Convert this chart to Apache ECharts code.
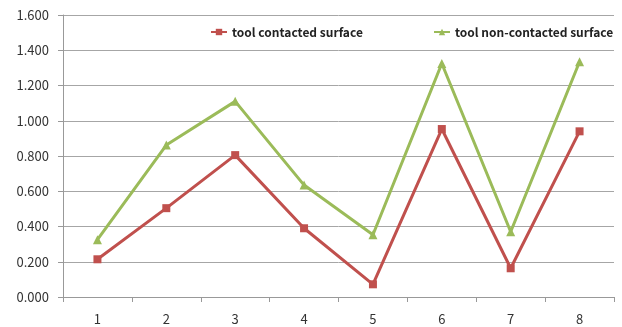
<!DOCTYPE html>
<html>
<head>
    <meta charset="utf-8">
    <script src="https://cdn.jsdelivr.net/npm/echarts@6/dist/echarts.min.js"></script>
    <style>
        html, body { margin: 0; padding: 0; background: #fff; }
    </style>
</head>
<body>
    <div id="main" style="width: 622px;height:327px;"></div>
    <script type="text/javascript">
        // data
        var categories = ['1', '2', '3', '4', '5', '6', '7', '8'];
        var contacted = [0.214, 0.504, 0.805, 0.390, 0.072, 0.953, 0.163, 0.940];
        var nonContacted = [0.325, 0.862, 1.110, 0.635, 0.353, 1.325, 0.370, 1.335];

        var font = '"Noto Sans CJK KR", "Noto Sans", sans-serif';
        var legendText = {
            fontFamily: font,
            fontSize: 12,
            fontWeight: 'bold',
            color: '#222'
        };

        var option = {
            animation: false,
            legend: [
                {
                    left: 210,
                    top: 26,
                    padding: 0,
                    itemWidth: 16,
                    itemHeight: 8,
                    textStyle: legendText,
                    data: ['tool contacted surface']
                },
                {
                    left: 433,
                    top: 26,
                    padding: 0,
                    itemWidth: 16,
                    itemHeight: 8,
                    textStyle: legendText,
                    data: ['tool non-contacted surface']
                }
            ],
            grid: {
                left: 63,
                right: 8,
                top: 15,
                bottom: 30
            },
            xAxis: {
                type: 'category',
                boundaryGap: true,
                data: categories,
                axisLine: {lineStyle: {color: '#999', width: 1}},
                axisTick: {show: true, length: 5, lineStyle: {color: '#999'}},
                axisLabel: {
                    margin: 16,
                    fontFamily: font,
                    fontSize: 13,
                    color: '#333'
                },
                splitLine: {show: false}
            },
            yAxis: {
                type: 'value',
                min: 0,
                max: 1.6,
                interval: 0.2,
                axisLine: {show: true, lineStyle: {color: '#999', width: 1}},
                axisTick: {show: true, length: 5, lineStyle: {color: '#999'}},
                axisLabel: {
                    margin: 14,
                    fontFamily: font,
                    fontSize: 13,
                    color: '#333',
                    formatter: function (v) { return v.toFixed(3); }
                },
                splitLine: {lineStyle: {color: '#a6a6a6', width: 1}}
            },
            series: [
                {
                    name: 'tool contacted surface',
                    type: 'line',
                    symbol: 'rect',
                    symbolSize: 8,
                    itemStyle: {color: '#c0504d'},
                    lineStyle: {color: '#c0504d', width: 3},
                    data: contacted
                },
                {
                    name: 'tool non-contacted surface',
                    type: 'line',
                    symbol: 'triangle',
                    symbolSize: 9,
                    itemStyle: {color: '#9bbb59'},
                    lineStyle: {color: '#9bbb59', width: 3},
                    data: nonContacted
                }
            ]
        };

        var myChart = echarts.init(document.getElementById('main'));
        myChart.setOption(option);
    </script>
</body>
</html>
